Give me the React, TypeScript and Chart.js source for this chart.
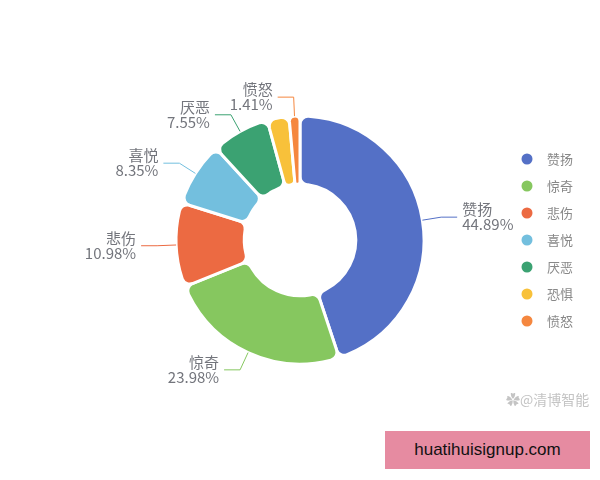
import React, { useEffect, useRef } from 'react';
import { Chart, registerables } from 'chart.js';

Chart.register(...registerables);

const categories = ['赞扬', '惊奇', '悲伤', '喜悦', '厌恶', '恐惧', '愤怒'];
const shares = [44.89, 23.98, 10.98, 8.35, 7.55, 2.84, 1.41];
const colors = ['#5470c6', '#86c75f', '#ec6a42', '#73bfde', '#3ba272', '#f8c13a', '#f5873f'];
// label that ECharts dropped because it overlapped its neighbour
const hiddenLabels = ['恐惧'];

const FONT = '"Noto Sans CJK SC", "Noto Sans", sans-serif';

// outside labels with leader lines, plus the legend on the right
const pieExtras = {
  id: 'pieExtras',
  afterDatasetsDraw(chart: any) {
    const ctx = chart.ctx;
    const meta = chart.getDatasetMeta(0);
    const values = chart.data.datasets[0].data as number[];
    const total = values.reduce((a, b) => a + b, 0);

    ctx.save();
    meta.data.forEach((arc: any, i: number) => {
      const label = chart.data.labels[i] as string;
      if (hiddenLabels.includes(label)) return;
      const { x, y, startAngle, endAngle, outerRadius } = arc.getProps(
        ['x', 'y', 'startAngle', 'endAngle', 'outerRadius'],
        true
      );
      const mid = (startAngle + endAngle) / 2;
      const cos = Math.cos(mid);
      const sin = Math.sin(mid);
      const right = cos >= 0;
      const x0 = x + cos * outerRadius;
      const y0 = y + sin * outerRadius;
      const x1 = x + cos * (outerRadius + 19);
      const y1 = y + sin * (outerRadius + 19);
      const x2 = x1 + (right ? 16 : -16);

      ctx.strokeStyle = colors[i];
      ctx.lineWidth = 1;
      ctx.beginPath();
      ctx.moveTo(x0, y0);
      ctx.lineTo(x1, y1);
      ctx.lineTo(x2, y1);
      ctx.stroke();

      const pct = ((values[i] / total) * 100).toFixed(2) + '%';
      const tx = x2 + (right ? 5 : -5);
      ctx.fillStyle = '#73757c';
      ctx.font = `15px ${FONT}`;
      ctx.textAlign = right ? 'left' : 'right';
      ctx.textBaseline = 'middle';
      ctx.fillText(label, tx, y1 - 7.5);
      ctx.fillText(pct, tx, y1 + 7.5);
    });

    // legend
    const cy = (chart.chartArea.top + chart.chartArea.bottom) / 2;
    const n = chart.data.labels.length;
    ctx.font = `13px ${FONT}`;
    ctx.textAlign = 'left';
    ctx.textBaseline = 'middle';
    chart.data.labels.forEach((label: string, i: number) => {
      const ly = cy + (i - (n - 1) / 2) * 27;
      ctx.fillStyle = colors[i];
      ctx.beginPath();
      ctx.arc(527, ly, 5.5, 0, Math.PI * 2);
      ctx.fill();
      ctx.fillStyle = '#888';
      ctx.fillText(label, 547, ly);
    });
    ctx.restore();
  },
};

const EmotionPie = () => {
  const chartRef = useRef<HTMLCanvasElement>(null);
  const chartInstanceRef = useRef<Chart | null>(null);

  useEffect(() => {
    const canvas = chartRef.current;
    if (!canvas) return;

    chartInstanceRef.current = new Chart(canvas, {
      type: 'doughnut',
      data: {
        labels: categories,
        datasets: [{
          data: shares,
          backgroundColor: colors,
          borderColor: '#ffffff',
          borderWidth: 3,
          borderRadius: 8,
        }],
      },
      options: {
        responsive: true,
        maintainAspectRatio: false,
        animation: false,
        radius: 124,
        cutout: '45%',
        layout: { padding: 0 },
        plugins: {
          legend: { display: false },
          tooltip: { enabled: false },
        },
      },
      plugins: [pieExtras],
    });

    return () => {
      if (chartInstanceRef.current) {
        chartInstanceRef.current.destroy();
      }
    };
  }, []);

  return (
    <div style={{ position: 'fixed', left: 0, top: 0, width: 600, height: 480, background: '#fff' }}>
      <canvas ref={chartRef}></canvas>
      <div
        style={{
          position: 'absolute', left: 506, top: 389, fontFamily: FONT, fontSize: 14,
          color: '#c4c4c4', whiteSpace: 'nowrap',
        }}
      >
        ✿@清博智能
      </div>
      <div
        style={{
          position: 'absolute', left: 385, top: 431, width: 205, height: 38, background: '#e68ba1',
          display: 'flex', alignItems: 'center', justifyContent: 'center',
          fontFamily: '"Liberation Sans", Arial, sans-serif', fontSize: 17, color: '#111',
        }}
      >
        huatihuisignup.com
      </div>
    </div>
  );
};

export default function App() {
  return <EmotionPie />;
}
